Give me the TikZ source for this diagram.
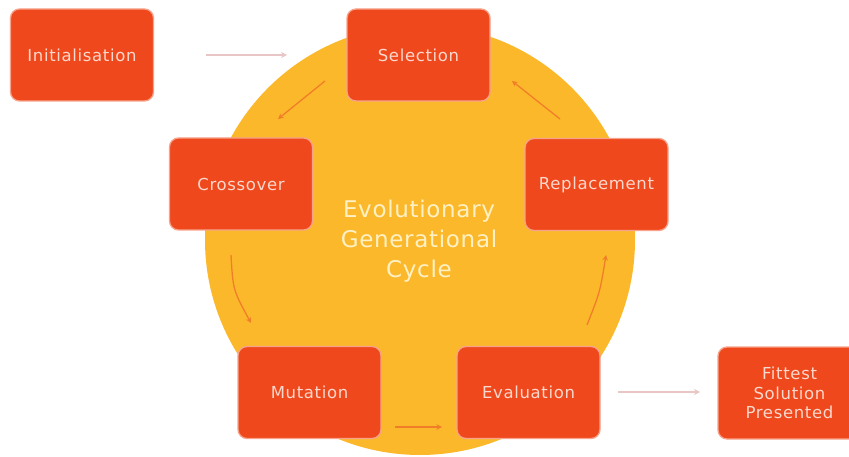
\documentclass[tikz,border=0pt]{standalone}
\usepackage{fontspec}
\setmainfont{DejaVu Sans}
\usetikzlibrary{arrows.meta}
\definecolor{cyc}{HTML}{FCB82B}
\definecolor{boxfill}{HTML}{F0481D}
\definecolor{boxedge}{HTML}{F7A38B}
\definecolor{boxtext}{HTML}{FBD8CC}
\definecolor{centertext}{HTML}{FFF1C4}
\definecolor{inarrow}{HTML}{F07E28}
\definecolor{outarrow}{HTML}{E9C6C6}
\tikzset{
  stagebox/.style={rectangle, rounded corners=9pt, minimum width=143pt, minimum height=92pt,
    fill=boxfill, draw=boxedge, line width=1.3pt, text=boxtext, align=center,
    font=\fontsize{16.5}{19.5}\selectfont\addfontfeature{LetterSpace=4}, inner sep=0pt},
  inflow/.style={draw=inarrow, line width=1.3pt, -{Stealth[length=5.5pt,width=5.5pt]}},
  outflow/.style={draw=outarrow, line width=1.8pt, -{Stealth[length=6pt,width=6pt]}},
}
\begin{document}
\begin{tikzpicture}[x=1pt,y=-1pt]
\useasboundingbox (0,0) rectangle (849,457);
\clip (0,0) rectangle (849,457);
\fill[cyc] (420,240) circle (215);
\node[stagebox] (init) at (82,55) {Initialisation};
\node[stagebox] (sel) at (418.5,55) {Selection};
\node[stagebox] (cross) at (241,184) {Crossover};
\node[stagebox] (repl) at (596.5,184.5) {Replacement};
\node[stagebox] (mut) at (309.5,392.5) {Mutation};
\node[stagebox] (eval) at (528.5,392.5) {Evaluation};
\node[stagebox] (fit) at (789.5,393) {Fittest\\Solution\\Presented};
\node[text=centertext, align=center, font=\fontsize{23}{30}\selectfont\addfontfeature{LetterSpace=3}] (title) at (419,241) {Evolutionary\\Generational\\Cycle};
% arrow endpoints
\coordinate (a1s) at (206,55);   \coordinate (a1e) at (287,55);
\coordinate (a2s) at (325,81);   \coordinate (a2e) at (278,119);
\coordinate (a3s) at (231,255);  \coordinate (a3e) at (251,323);
\coordinate (a4s) at (395,427);  \coordinate (a4e) at (442,427);
\coordinate (a5s) at (587,325);  \coordinate (a5e) at (606,255);
\coordinate (a6s) at (560,119);  \coordinate (a6e) at (512,81);
\coordinate (a7s) at (618,392);  \coordinate (a7e) at (700,392);
\draw[outflow] (a1s) -- (a1e);
\draw[inflow] (a2s) -- (a2e);
\draw[inflow] (a3s) .. controls (233,290) .. (a3e);
\draw[inflow] (a4s) -- (a4e);
\draw[inflow] (a5s) .. controls (600,292) .. (a5e);
\draw[inflow] (a6s) -- (a6e);
\draw[outflow] (a7s) -- (a7e);
\end{tikzpicture}
\end{document}
